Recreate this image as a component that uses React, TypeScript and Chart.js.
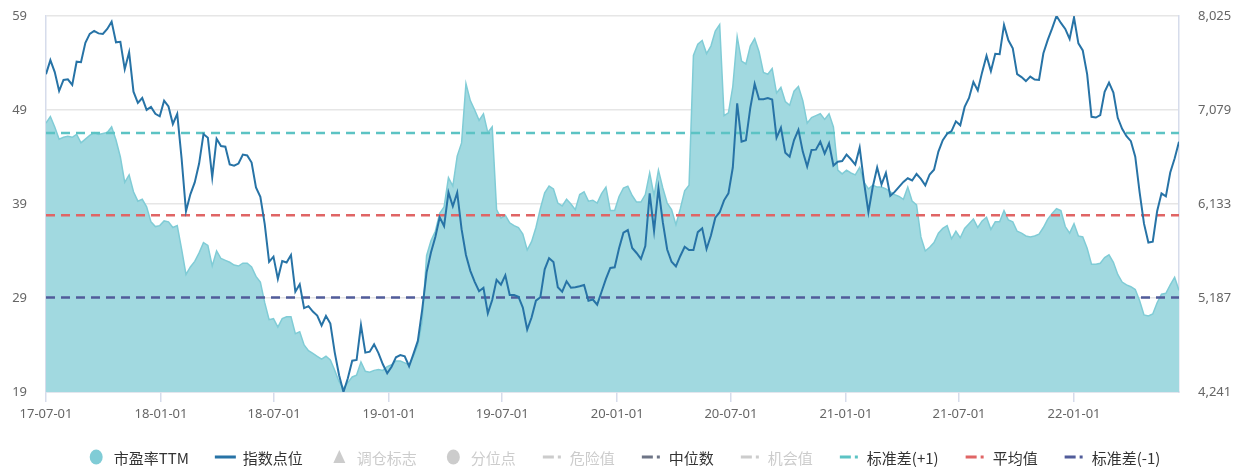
import React, { useEffect, useRef } from "react";
import { Chart, registerables } from "chart.js";

Chart.register(...registerables);

// ---------- data ----------
const START_DATE = "2017-07-01";
const WEEK_STEP_DAYS = 7;

const PE_TTM = [
  47.6, 48.3, 47.2, 45.9, 46.1, 46.2, 46.1, 46.4, 45.5, 45.9,
  46.3, 46.6, 46.4, 46.5, 46.6, 47.2, 45.8, 44.0, 41.3, 42.1,
  40.3, 39.3, 39.5, 38.7, 37.1, 36.6, 36.7, 37.2, 37.1, 36.5,
  36.7, 34.2, 31.5, 32.3, 32.9, 33.8, 34.9, 34.6, 32.4, 34.0,
  33.2, 33.0, 32.8, 32.5, 32.4, 32.7, 32.7, 32.3, 31.3, 30.7,
  28.5, 26.7, 26.8, 25.9, 26.8, 27.0, 27.0, 25.2, 25.4, 24.0,
  23.4, 23.1, 22.8, 22.5, 22.8, 22.4, 21.3, 20.1, 19.4, 20.0,
  20.6, 20.8, 22.2, 21.2, 21.1, 21.3, 21.4, 21.3, 21.7, 21.9,
  22.3, 22.3, 22.1, 21.9, 22.8, 24.0, 26.5, 33.5, 35.1, 36.1,
  38.0, 38.7, 41.8, 40.9, 44.1, 45.5, 51.8, 50.0, 49.0, 47.9,
  48.6, 46.6, 47.2, 38.4, 37.5, 37.8, 37.0, 36.7, 36.5, 35.8,
  34.1, 35.0, 36.5, 38.5, 40.2, 40.9, 40.6, 39.1, 38.8, 39.5,
  39.0, 38.4, 40.0, 40.3, 39.3, 39.4, 39.1, 40.1, 40.8, 38.3,
  38.3, 39.8, 40.7, 40.9, 39.9, 39.2, 39.2, 40.0, 42.3, 39.9,
  42.6, 40.7, 39.1, 38.4, 36.8, 38.5, 40.4, 41.0, 54.8, 56.0,
  56.4, 55.0, 55.8, 57.4, 58.1, 48.4, 48.7, 51.5, 56.8, 54.2,
  53.9, 55.8, 56.6, 55.2, 53.0, 52.8, 53.4, 50.8, 51.4, 49.9,
  49.5, 51.0, 51.5, 50.0, 47.6, 48.2, 48.4, 48.6, 48.0, 48.6,
  47.2, 42.6, 42.2, 42.6, 42.3, 42.1, 42.9, 41.3, 40.6, 41.0,
  40.8, 40.8, 40.6, 40.3, 40.0, 39.8, 39.5, 40.8, 39.3, 38.9,
  35.5, 34.0, 34.4, 34.9, 35.9, 36.4, 36.7, 35.3, 36.1, 35.4,
  36.4, 36.9, 37.4, 36.5, 37.2, 37.6, 36.3, 37.1, 37.1, 38.3,
  37.3, 37.1, 36.1, 35.9, 35.6, 35.5, 35.6, 35.8, 36.5, 37.4,
  38.0, 38.5, 38.3, 36.6, 35.9, 36.9, 35.6, 35.5, 34.3, 32.6,
  32.6, 32.7, 33.3, 33.6, 32.8, 31.5, 30.7, 30.4, 30.2, 29.9,
  28.7, 27.2, 27.1, 27.3, 28.5, 29.4, 29.5, 30.4, 31.2, 29.8,
];

const INDEX_POINTS = [
  7440, 7580, 7460, 7270, 7381, 7388, 7331, 7565, 7560, 7755,
  7845, 7875, 7850, 7844, 7895, 7968, 7760, 7765, 7490, 7660,
  7263, 7150, 7200, 7080, 7110, 7040, 7015, 7173, 7115, 6938,
  7040, 6590, 6060, 6230, 6350, 6540, 6837, 6800, 6402, 6790,
  6717, 6710, 6530, 6518, 6540, 6630, 6622, 6550, 6300, 6205,
  5930, 5550, 5603, 5380, 5560, 5545, 5620, 5250, 5325, 5085,
  5105, 5050, 5010, 4910, 5006, 4930, 4640, 4410, 4241, 4380,
  4556, 4563, 4915, 4637, 4647, 4720, 4632, 4520, 4430, 4495,
  4590, 4613, 4600, 4500, 4625, 4755, 5070, 5445, 5645, 5800,
  5999, 5910, 6250, 6110, 6247, 5880, 5620, 5460, 5350, 5255,
  5290, 5033, 5167, 5370, 5320, 5415, 5217, 5217, 5200, 5090,
  4870, 4990, 5160, 5194, 5476, 5587, 5550, 5295, 5250, 5355,
  5290, 5296, 5305, 5318, 5160, 5172, 5120, 5250, 5380, 5490,
  5496, 5687, 5844, 5871, 5690, 5640, 5580, 5710, 6241, 5864,
  6291, 5950, 5675, 5552, 5505, 5610, 5703, 5670, 5670, 5850,
  5888, 5680, 5815, 5995, 6050, 6170, 6240, 6500, 7147, 6760,
  6775, 7100, 7341, 7187, 7187, 7200, 7185, 6800, 6900, 6650,
  6609, 6777, 6880, 6660, 6510, 6676, 6680, 6760, 6640, 6744,
  6520, 6559, 6565, 6630, 6583, 6530, 6700, 6350, 6050, 6307,
  6500, 6330, 6445, 6215, 6255, 6305, 6355, 6392, 6370, 6435,
  6385, 6320, 6430, 6478, 6660, 6775, 6840, 6866, 6965, 6925,
  7110, 7200, 7360, 7275, 7460, 7625, 7470, 7645, 7640, 7935,
  7780, 7700, 7440, 7410, 7370, 7415, 7385, 7381, 7650, 7785,
  7900, 8025, 7955, 7895, 7795, 8010, 7750, 7678, 7440, 7010,
  7003, 7028, 7263, 7355, 7255, 7000, 6890, 6815, 6765, 6609,
  6250, 5935, 5745, 5754, 6060, 6240, 6210, 6450, 6590, 6760,
];

const STD_PLUS_1 = 46.55;
const MEAN_VALUE = 37.8;
const STD_MINUS_1 = 29.05;

const X_TICK_LABELS = [
  "17-07-01", "18-01-01", "18-07-01", "19-01-01", "19-07-01",
  "20-01-01", "20-07-01", "21-01-01", "21-07-01", "22-01-01",
];
const PE_TICKS = [19, 29, 39, 49, 59];
const INDEX_TICKS = [4241, 5187, 6133, 7079, 8025];

const LEGEND_NAMES = [
  "市盈率TTM", "指数点位", "调仓标志", "分位点", "危险值",
  "中位数", "机会值", "标准差(+1)", "平均值", "标准差(-1)",
];

// ---------- helpers ----------
const DAY_MS = 86400000;
const startMs = Date.parse(START_DATE + "T00:00:00Z");
const labelToDay = (lbl: string) => {
  const [yy, mm, dd] = lbl.split("-").map(Number);
  return Math.round((Date.UTC(2000 + yy, mm - 1, dd) - startMs) / DAY_MS);
};
const X_MAX = (PE_TTM.length - 1) * WEEK_STEP_DAYS;

const COLORS = {
  peFill: "#A1D9E0",
  peLine: "#80CCD6",
  index: "#2773A6",
  stdPlus: "#5CC3C4",
  mean: "#E06565",
  stdMinus: "#515C9A",
  median: "#6E7586",
  disabled: "#CCCCCC",
  grid: "#E6E6E6",
  axis: "#D6DCEB",
  tick: "#666666",
};

type IconKind = "circle" | "line" | "triangle" | "dashdot";
const LEGEND_STYLE: { icon: IconKind; color: string; text: string }[] = [
  { icon: "circle", color: COLORS.peLine, text: "#333" },
  { icon: "line", color: COLORS.index, text: "#333" },
  { icon: "triangle", color: COLORS.disabled, text: COLORS.disabled },
  { icon: "circle", color: COLORS.disabled, text: COLORS.disabled },
  { icon: "dashdot", color: COLORS.disabled, text: COLORS.disabled },
  { icon: "dashdot", color: COLORS.median, text: "#333" },
  { icon: "dashdot", color: COLORS.disabled, text: COLORS.disabled },
  { icon: "dashdot", color: COLORS.stdPlus, text: "#333" },
  { icon: "dashdot", color: COLORS.mean, text: "#333" },
  { icon: "dashdot", color: COLORS.stdMinus, text: "#333" },
];

const legendPlugin = {
  id: "echartsLikeLegend",
  afterDraw(chart: any) {
    const ctx: CanvasRenderingContext2D = chart.ctx;
    ctx.save();
    ctx.font = '15px "Noto Sans CJK SC", "Noto Sans", sans-serif';
    ctx.textBaseline = "middle";
    const ICON_W = 25;
    const GAP_T = 5;
    const GAP_I = 24;
    const widths = LEGEND_NAMES.map(
      (n) => ICON_W + GAP_T + ctx.measureText(n).width
    );
    const total = widths.reduce((a, b) => a + b, 0) + GAP_I * (widths.length - 1);
    let x = (chart.width - total) / 2;
    const y = chart.height - 11;
    LEGEND_NAMES.forEach((name, i) => {
      const st = LEGEND_STYLE[i];
      const cx = x + ICON_W / 2;
      ctx.fillStyle = st.color;
      ctx.strokeStyle = st.color;
      if (st.icon === "circle") {
        ctx.beginPath();
        ctx.ellipse(cx, y, 6.5, 7.5, 0, 0, Math.PI * 2);
        ctx.fill();
      } else if (st.icon === "line") {
        ctx.fillRect(x + 2, y - 1.5, 21, 3);
      } else if (st.icon === "triangle") {
        ctx.beginPath();
        ctx.moveTo(cx, y - 7);
        ctx.lineTo(cx + 6, y + 6);
        ctx.lineTo(cx - 6, y + 6);
        ctx.closePath();
        ctx.fill();
      } else {
        ctx.fillRect(x + 3, y - 1.5, 11, 3);
        ctx.fillRect(x + 18, y - 1.5, 3, 3);
      }
      ctx.fillStyle = st.text;
      ctx.textAlign = "left";
      ctx.fillText(name, x + ICON_W + GAP_T, y + 1);
      x += widths[i] + GAP_I;
    });
    ctx.restore();
  },
};

const hLine = (v: number) => [
  { x: 0, y: v },
  { x: X_MAX, y: v },
];

export default function App() {
  const canvasRef = useRef<HTMLCanvasElement | null>(null);

  useEffect(() => {
    if (!canvasRef.current) return;
    const peData = PE_TTM.map((v, k) => ({ x: k * WEEK_STEP_DAYS, y: v }));
    const idxData = INDEX_POINTS.map((v, k) => ({ x: k * WEEK_STEP_DAYS, y: v }));
    const tickFont = { family: '"Noto Sans", sans-serif', size: 13 };

    const chart = new Chart(canvasRef.current, {
      type: "line",
      data: {
        datasets: [
          {
            label: "指数点位",
            data: idxData,
            yAxisID: "y2",
            borderColor: COLORS.index,
            borderWidth: 2,
            pointRadius: 0,
            fill: false,
            tension: 0,
            order: 0,
          },
          {
            label: "标准差(+1)",
            data: hLine(STD_PLUS_1),
            yAxisID: "y",
            borderColor: COLORS.stdPlus,
            borderWidth: 2.5,
            borderDash: [9, 6],
            pointRadius: 0,
            fill: false,
            order: 1,
          },
          {
            label: "平均值",
            data: hLine(MEAN_VALUE),
            yAxisID: "y",
            borderColor: COLORS.mean,
            borderWidth: 2.5,
            borderDash: [9, 6],
            pointRadius: 0,
            fill: false,
            order: 1,
          },
          {
            label: "标准差(-1)",
            data: hLine(STD_MINUS_1),
            yAxisID: "y",
            borderColor: COLORS.stdMinus,
            borderWidth: 2.5,
            borderDash: [9, 6],
            pointRadius: 0,
            fill: false,
            order: 1,
          },
          {
            label: "市盈率TTM",
            data: peData,
            yAxisID: "y",
            borderColor: COLORS.peLine,
            backgroundColor: COLORS.peFill,
            borderWidth: 1.5,
            pointRadius: 0,
            fill: "start",
            tension: 0,
            order: 2,
          },
        ],
      },
      options: {
        animation: false,
        responsive: true,
        maintainAspectRatio: false,
        layout: { padding: { top: 8, left: 0, right: 0, bottom: 36 } },
        plugins: {
          legend: { display: false },
          tooltip: { enabled: false },
        },
        scales: {
          x: {
            type: "linear",
            min: 0,
            max: X_MAX,
            afterBuildTicks: (scale: any) => {
              scale.ticks = X_TICK_LABELS.map((l) => ({ value: labelToDay(l) }));
            },
            afterFit: (scale: any) => {
              scale.height = 40;
              scale.paddingLeft = 0;
              scale.paddingRight = 0;
            },
            ticks: {
              autoSkip: false,
              maxRotation: 0,
              padding: 4,
              color: COLORS.tick,
              font: tickFont,
              callback: (value: any) => {
                const i = X_TICK_LABELS.findIndex((l) => labelToDay(l) === value);
                return i >= 0 ? X_TICK_LABELS[i] : "";
              },
            },
            grid: {
              drawOnChartArea: false,
              drawTicks: true,
              tickLength: 10,
              tickColor: COLORS.axis,
              lineWidth: 1.5,
            },
            border: { display: true, color: COLORS.axis, width: 1.5 },
          },
          y: {
            type: "linear",
            position: "left",
            min: PE_TICKS[0],
            max: PE_TICKS[PE_TICKS.length - 1],
            afterBuildTicks: (scale: any) => {
              scale.ticks = PE_TICKS.map((v) => ({ value: v }));
            },
            afterFit: (scale: any) => {
              scale.width = 38;
              scale.paddingTop = 0;
              scale.paddingBottom = 0;
            },
            ticks: {
              padding: 19,
              color: COLORS.tick,
              font: tickFont,
              callback: (v: any) => String(v),
            },
            grid: {
              color: COLORS.grid,
              lineWidth: 1.5,
              drawTicks: false,
            },
            border: { display: true, color: COLORS.axis, width: 1.5 },
          },
          y2: {
            type: "linear",
            position: "right",
            min: INDEX_TICKS[0],
            max: INDEX_TICKS[INDEX_TICKS.length - 1],
            afterBuildTicks: (scale: any) => {
              scale.ticks = INDEX_TICKS.map((v) => ({ value: v }));
            },
            afterFit: (scale: any) => {
              scale.width = 57;
              scale.paddingTop = 0;
              scale.paddingBottom = 0;
            },
            ticks: {
              padding: 19,
              color: COLORS.tick,
              font: tickFont,
              callback: (v: any) => Number(v).toLocaleString("en-US"),
            },
            grid: { drawOnChartArea: false, drawTicks: false },
            border: { display: true, color: COLORS.axis, width: 1.5 },
          },
        },
      },
      plugins: [legendPlugin],
    } as any);

    return () => chart.destroy();
  }, []);

  return (
    <div style={{ position: "relative", width: "100%", height: 460 }}>
      <canvas ref={canvasRef} />
    </div>
  );
}
